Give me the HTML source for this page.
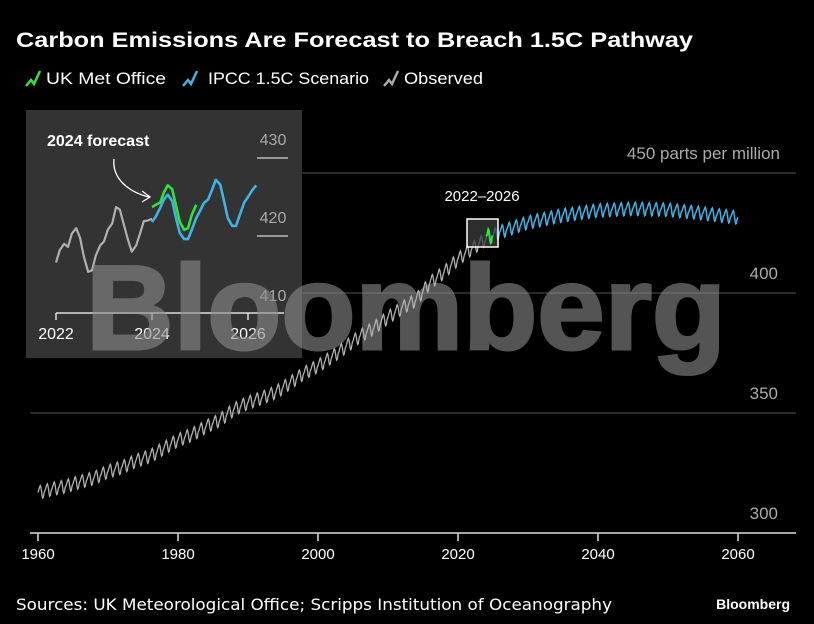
<!DOCTYPE html>
<html><head><meta charset="utf-8"><style>
html,body{margin:0;padding:0;background:#000;}
svg{display:block;font-family:"Liberation Sans",sans-serif;}
</style></head><body>
<svg id="c" width="814" height="624" viewBox="0 0 814 624">
<rect width="814" height="624" fill="#000"/>
<text x="16" y="47" fill="#fff" font-size="21" font-weight="bold" textLength="677" lengthAdjust="spacingAndGlyphs">Carbon Emissions Are Forecast to Breach 1.5C Pathway</text>
<g>
 <g><path d="M26,86 L31,80 L34,84 L40,71" stroke="#2ee43a" stroke-width="2.5" fill="none"/><text x="46" y="84" fill="#fff" font-size="17" textLength="120" lengthAdjust="spacingAndGlyphs">UK Met Office</text></g>
 <g><path d="M183,86 L188,80 L191,84 L197,71" stroke="#3fb2e6" stroke-width="2.5" fill="none"/><text x="208" y="84" fill="#fff" font-size="17" textLength="161" lengthAdjust="spacingAndGlyphs">IPCC 1.5C Scenario</text></g>
 <g><path d="M384,86 L389,80 L392,84 L398,71" stroke="#aaa" stroke-width="2.5" fill="none"/><text x="404" y="84" fill="#fff" font-size="17" textLength="79" lengthAdjust="spacingAndGlyphs">Observed</text></g>
</g>
<g id="grid"></g>
<g id="inset"></g>
<g opacity="0.6">
<text x="406" y="349" text-anchor="middle" fill="#8c8c8c" stroke="#8c8c8c" stroke-width="3" font-size="120" font-weight="bold" textLength="640" lengthAdjust="spacingAndGlyphs">Bloomberg</text>
</g>
<g id="main"></g>
<text x="16" y="610" fill="#fff" font-size="16" font-family="DejaVu Sans, sans-serif" textLength="596" lengthAdjust="spacingAndGlyphs">Sources: UK Meteorological Office; Scripps Institution of Oceanography</text>
<text x="790" y="609" text-anchor="end" fill="#fff" font-size="14" font-weight="bold">Bloomberg</text>
</svg>
<script>
const NS="http://www.w3.org/2000/svg";
// Main chart data
const obsYears=[1960,1962,1964,1966,1968,1970,1972,1974,1976,1978,1980,1982,1984,1986,1988,1990,1992,1994,1996,1998,2000,2002,2004,2006,2008,2010,2012,2014,2016,2018,2020,2022,2024];
const obsMeans=[316.9,318.4,319.6,321.4,323.0,325.7,327.5,330.2,332.1,335.4,338.8,341.1,344.4,347.2,351.6,354.4,356.4,358.8,362.6,366.7,369.7,373.5,377.7,382.1,385.6,389.9,393.9,397.2,404.4,408.7,414.2,418.6,422.5];
const projYears=[2024,2026,2030,2035,2040,2045,2050,2055,2060];
const projMeans=[422.5,425.5,429.5,432.5,434.5,435.2,434.8,433.3,431.5];
const seasonal=[0,0.8,1.5,2.3,2.6,1.9,0.2,-1.8,-2.8,-2.6,-1.3,-0.3];
const yTicks=[300,350,400,450];
const xTicks=[1960,1980,2000,2020,2040,2060];
// Inset data
const insetObsT=[2022.0,2022.08,2022.17,2022.25,2022.33,2022.42,2022.5,2022.58,2022.67,2022.75,2022.83,2022.92,2023.0,2023.08,2023.17,2023.25,2023.33,2023.42,2023.5,2023.58,2023.67,2023.75,2023.83,2023.92,2024.0];
const insetObsV=[416.6,418.2,419.0,418.6,420.3,421.0,419.8,417.4,415.4,415.6,417.5,418.8,419.3,420.8,421.6,423.7,423.4,421.3,419.5,418.0,418.8,420.3,421.9,422.0,422.2];
const insetIpccT=[2024.0,2024.08,2024.17,2024.25,2024.33,2024.42,2024.5,2024.58,2024.67,2024.75,2024.83,2024.92,2025.0,2025.08,2025.17,2025.25,2025.33,2025.42,2025.5,2025.58,2025.67,2025.75,2025.83,2025.92,2026.0,2026.08,2026.17];
const insetIpccV=[421.8,422.5,423.6,424.7,425.3,424.5,422.3,420.4,419.6,419.6,420.8,422.3,423.2,424.2,424.7,425.9,427.2,426.6,424.5,422.3,421.3,421.3,422.7,424.3,425.0,425.8,426.5];
const insetMetT=[2024.0,2024.08,2024.17,2024.25,2024.33,2024.42,2024.5,2024.58,2024.67,2024.75,2024.83,2024.92];
const insetMetV=[423.7,424.0,424.3,425.6,426.5,426.0,423.9,421.8,420.8,421.0,422.7,424.0];
const insetYTicks=[410,420,430];
const insetXTicks=[2022,2024,2026];

const xS=y=>38+(y-1960)*7;
const yS=v=>533-(v-300)*2.4;
const ixS=t=>56+(t-2022)*48;
const iyS=v=>236-(v-420)*7.8;

function el(tag,attrs,parent){const e=document.createElementNS(NS,tag);for(const k in attrs)e.setAttribute(k,attrs[k]);parent.appendChild(e);return e;}
function interp(ys,vs,t){for(let i=0;i<ys.length-1;i++){if(t>=ys[i]&&t<=ys[i+1]){const f=(t-ys[i])/(ys[i+1]-ys[i]);return vs[i]+f*(vs[i+1]-vs[i]);}}return vs[vs.length-1];}
const grid=document.getElementById('grid'),main=document.getElementById('main'),inset=document.getElementById('inset');

yTicks.forEach(v=>{
 if(v>300){const g=el('line',{x1:30,x2:796,y1:yS(v),y2:yS(v),stroke:'#555','stroke-width':1},grid);
 
 }
 const t=el('text',{x:v===450?780:778,y:yS(v)-14,fill:'#aaa','font-size':17,'text-anchor':'end'},grid);
 t.textContent=v===450?'450 parts per million':String(v);
 
 
});
const ax=el('line',{x1:30,x2:796,y1:533,y2:533,stroke:'#ddd','stroke-width':1.5},grid);


xTicks.forEach(y=>{
 const tk=el('line',{x1:xS(y),x2:xS(y),y1:533,y2:541,stroke:'#ddd','stroke-width':1.5},grid);
 
 
 const t=el('text',{x:xS(y),y:559,fill:'#fff','font-size':15,'text-anchor':'middle'},grid);
 t.textContent=y;
 
 
});

function series(years,means,t0,t1){let p=[];for(let m=Math.round(t0*12);m<=Math.round(t1*12);m++){const t=m/12;p.push(xS(t).toFixed(1)+','+yS(interp(years,means,t)+seasonal[((m%12)+12)%12]).toFixed(1));}return p.join(' ');}
const obs=el('polyline',{points:series(obsYears,obsMeans,1960,2024),fill:'none',stroke:'#b0b0b0','stroke-width':1.3},main);


const proj=el('polyline',{points:series(projYears,projMeans,2024,2060),fill:'none',stroke:'#3fb2e6','stroke-width':1.5},main);


const box=el('rect',{x:467,y:219,width:31,height:28,fill:'rgba(60,60,60,0.75)',stroke:'#fff','stroke-width':1.5},main);


const mp=insetMetT.map((t,i)=>xS(t).toFixed(1)+','+yS(insetMetV[i]).toFixed(1)).join(' ');
const met=el('polyline',{points:mp,fill:'none',stroke:'#2ee43a','stroke-width':2},main);


const bl=el('text',{x:482,y:201,fill:'#fff','font-size':15,'text-anchor':'middle'},main);
bl.textContent='2022–2026';



// inset
const ip=el('rect',{x:26,y:110,width:276,height:248,fill:'#333'},inset);


insetYTicks.forEach(v=>{
 if(v>410){const l=el('line',{x1:257,x2:288,y1:iyS(v),y2:iyS(v),stroke:'#bbb','stroke-width':1.5},inset);
 
 }
 const t=el('text',{x:273,y:iyS(v)-13,fill:'#aaa','font-size':16,'text-anchor':'middle'},inset);
 t.textContent=v;
 
 
});
const iax=el('line',{x1:56,x2:284,y1:313,y2:313,stroke:'#ddd','stroke-width':1.5},inset);


insetXTicks.forEach(y=>{
 const tk=el('line',{x1:ixS(y),x2:ixS(y),y1:313,y2:320,stroke:'#ddd','stroke-width':1.5},inset);
 
 
 const t=el('text',{x:ixS(y),y:339,fill:'#fff','font-size':16,'text-anchor':'middle'},inset);
 t.textContent=y;
 
 
});
function ipl(T,V){return T.map((t,i)=>ixS(t).toFixed(1)+','+iyS(V[i]).toFixed(1)).join(' ');}
const io=el('polyline',{points:ipl(insetObsT,insetObsV),fill:'none',stroke:'#b0b0b0','stroke-width':2.2,'stroke-linejoin':'round'},inset);


const ii=el('polyline',{points:ipl(insetIpccT,insetIpccV),fill:'none',stroke:'#3fb2e6','stroke-width':2.6,'stroke-linejoin':'round'},inset);


const im=el('polyline',{points:ipl(insetMetT,insetMetV),fill:'none',stroke:'#2ee43a','stroke-width':2.6,'stroke-linejoin':'round'},inset);


const an=el('text',{x:47,y:146,fill:'#fff','font-size':16,'font-weight':'bold'},inset);
an.textContent='2024 forecast';


const ar=el('path',{d:'M114,159 C112,178 128,192 149,197 M142,191 L150,197 L142,202',fill:'none',stroke:'#fff','stroke-width':1.3},inset);


</script>
</body></html>
